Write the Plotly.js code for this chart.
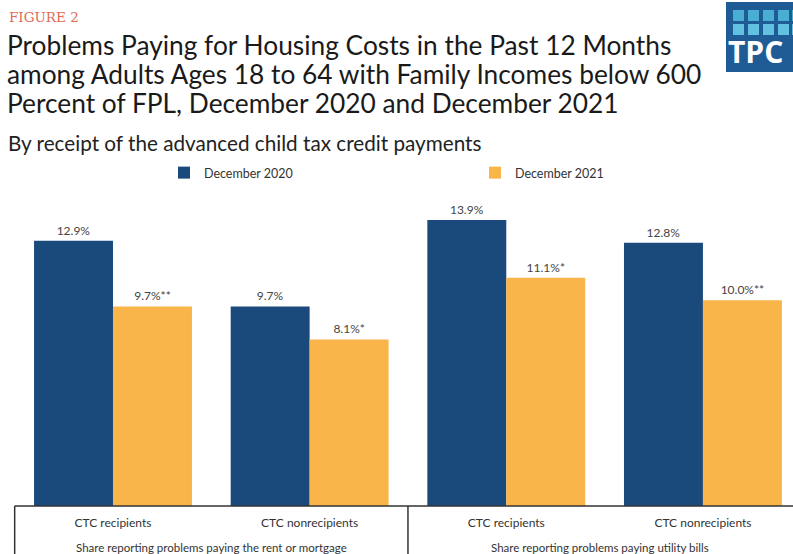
<!DOCTYPE html>
<html>
<head>
<meta charset="utf-8">
<script src="https://cdn.plot.ly/plotly-3.0.1.min.js"></script>
<style>html,body{margin:0;padding:0;background:#fff;}#chart{width:793px;height:554px;}</style>
</head>
<body>
<div id="chart"></div>
<script>
// ---- data ----
const recipientGroups = ["CTC recipients", "CTC nonrecipients", "CTC recipients", "CTC nonrecipients"];
const problemGroups = ["Share reporting problems paying the rent or mortgage", "Share reporting problems paying utility bills"];
const seriesNames = ["December 2020", "December 2021"];
const dec2020 = [12.9, 9.7, 13.9, 12.8];
const dec2021 = [9.7, 8.1, 11.1, 10.0];
const sig2020 = ["", "", "", ""];
const sig2021 = ["**", "*", "*", "**"];

const titleLines = [
  "Problems Paying for Housing Costs in the Past 12 Months",
  "among Adults Ages 18 to 64 with Family Incomes below 600",
  "Percent of FPL, December 2020 and December 2021"
];
const subtitle = "By receipt of the advanced child tax credit payments";
const figureLabel = "FIGURE 2";

// ---- styling ----
const W = 793, H = 554;
const mT = 195, mB = 48;
const plotH = H - mT - mB;
const blue = "#1a4a7c", orange = "#f9b44a";
const xIdx = recipientGroups.map((_, i) => i);
const xRange = [-0.5746, 3.458];
const px2paperY = y => (H - mB - y) / plotH;
const xPaper = v => (v - xRange[0]) / (xRange[1] - xRange[0]);

function labels(vals, sig) { return vals.map((v, i) => v.toFixed(1) + "%" + sig[i]); }

const traces = [
  {type: "bar", name: seriesNames[0], x: xIdx, y: dec2020, marker: {color: blue},
   text: labels(dec2020, sig2020), textposition: "outside", cliponaxis: false,
   textfont: {family: "Lato", size: 12, color: "#444"}, hoverinfo: "skip"},
  {type: "bar", name: seriesNames[1], x: xIdx, y: dec2021, marker: {color: orange},
   text: labels(dec2021, sig2021), textposition: "outside", cliponaxis: false,
   textfont: {family: "Lato", size: 12, color: "#444"}, hoverinfo: "skip"}
];

const boxColor = "#333";
const shapes = [
  // category box
  {type: "line", xref: "paper", yref: "paper", x0: xPaper(-0.5), x1: 1.02, y0: 0, y1: 0, line: {color: boxColor, width: 1.5}},
  {type: "line", xref: "paper", yref: "paper", x0: xPaper(-0.5), x1: xPaper(-0.5), y0: 0, y1: -0.3, line: {color: boxColor, width: 1.5}},
  {type: "line", xref: "paper", yref: "paper", x0: xPaper(1.5), x1: xPaper(1.5), y0: 0, y1: -0.3, line: {color: boxColor, width: 1.5}},
  // logo
  {type: "rect", xref: "paper", yref: "paper", x0: 726 / W, x1: 1.01, y0: px2paperY(72), y1: px2paperY(2), fillcolor: "#1f5c96", line: {width: 0}, layer: "above"}
];
const sqCols = [733, 748, 763, 778, 792];
const sqRows = [10, 24];
sqRows.forEach((ry, r) => sqCols.forEach((cx, c) => {
  shapes.push({type: "rect", xref: "paper", yref: "paper", x0: cx / W, x1: Math.min((cx + 11) / W, 1.01),
    y0: px2paperY(ry + 11), y1: px2paperY(ry), fillcolor: (r === 0 ? "#4aaed3" : "#62c1e0"), line: {width: 0}, layer: "above"});
}));

const annotations = [];
annotations.push({xref: "paper", yref: "paper", x: 7 / W, y: px2paperY(17), xanchor: "left", yanchor: "middle",
  text: figureLabel, showarrow: false, font: {family: "DejaVu Serif", size: 13.5, color: "#e26a55"}});
const lineY = [45, 74, 103];
titleLines.forEach((t, i) => annotations.push({xref: "paper", yref: "paper", x: 5 / W, y: px2paperY(lineY[i]),
  xanchor: "left", yanchor: "middle", text: t, showarrow: false, font: {family: "Lato", size: 26.3, color: "#1a1a1a"}}));
annotations.push({xref: "paper", yref: "paper", x: 6 / W, y: px2paperY(143), xanchor: "left", yanchor: "middle",
  text: subtitle, showarrow: false, font: {family: "Lato", size: 20.7, color: "#222"}});
annotations.push({xref: "paper", yref: "paper", x: 726 / W, y: px2paperY(52), xanchor: "left", yanchor: "middle",
  text: "<b>TPC</b>", showarrow: false, font: {family: "Open Sans", size: 30, color: "#fff"}});
// group labels
[[-0.5, 1.5], [1.5, 3.5]].forEach((rg, i) => annotations.push({xref: "paper", yref: "paper",
  x: (xPaper(rg[0]) + Math.min(xPaper(rg[1]), 1.0)) / 2, y: px2paperY(547), xanchor: "center", yanchor: "middle",
  text: problemGroups[i], showarrow: false, font: {family: "Lato", size: 11.5, color: "#333"}}));

const layout = {
  width: W, height: H,
  margin: {l: 0, r: 0, t: mT, b: mB, pad: 0},
  paper_bgcolor: "#fff", plot_bgcolor: "#fff",
  barmode: "group", bargap: 0.197, bargroupgap: 0,
  xaxis: {range: xRange, tickmode: "array", tickvals: xIdx, ticktext: recipientGroups, showgrid: false,
    zeroline: false, showline: false, ticks: "", ticklabelstandoff: 8,
    tickfont: {family: "Lato", size: 12, color: "#333"}, fixedrange: true},
  yaxis: {range: [0, plotH / 20.57], visible: false, showgrid: false, zeroline: false, fixedrange: true},
  showlegend: true,
  legend: {orientation: "h", x: 164 / W, y: px2paperY(173), xanchor: "left", yanchor: "middle",
    entrywidth: 266, entrywidthmode: "pixels", itemwidth: 30,
    font: {family: "Lato", size: 12.5, color: "#333"}, bgcolor: "rgba(0,0,0,0)"},
  shapes: shapes,
  annotations: annotations
};

Plotly.newPlot("chart", traces, layout, {displayModeBar: false, staticPlot: true});
</script>
</body>
</html>
